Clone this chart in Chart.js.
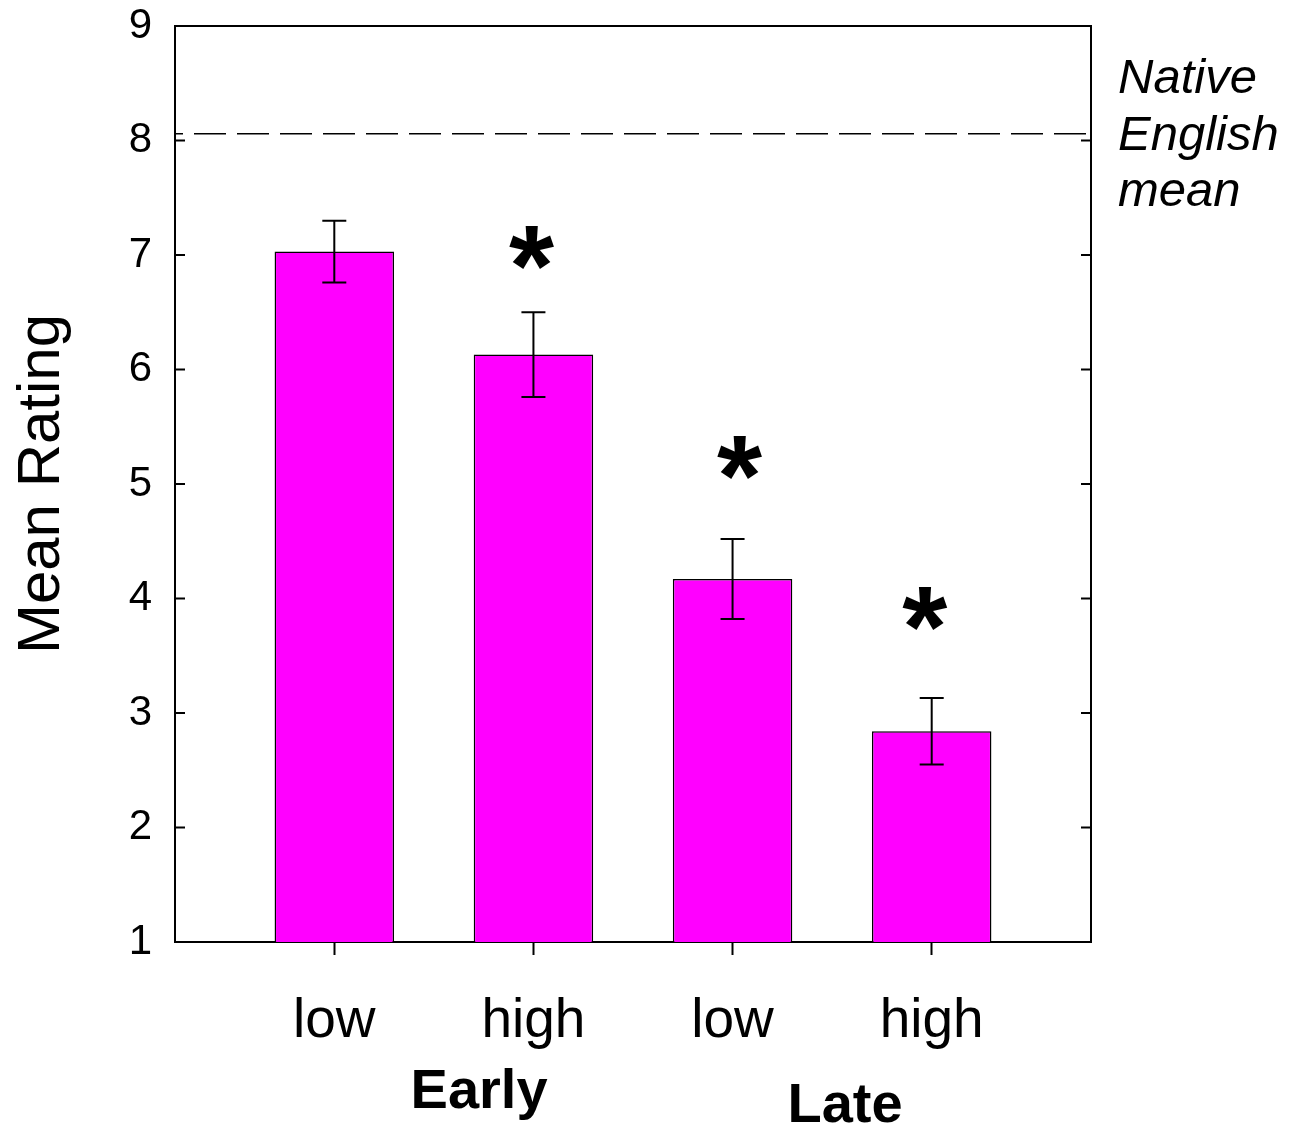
<!DOCTYPE html>
<html>
<head>
<meta charset="utf-8">
<script src="https://cdn.jsdelivr.net/npm/chart.js@4/dist/chart.umd.min.js"></script>
<style>
  html, body { margin: 0; padding: 0; background: #ffffff; }
  #wrap { width: 1289px; height: 1135px; }
</style>
</head>
<body>
<div id="wrap"><canvas id="chart" width="1289" height="1135"></canvas></div>
<script>
// Proficiency groups and conditions
const categories = ['low', 'high', 'low', 'high'];
const groupNames = ['Early', 'Late'];
// Mean rating per condition and its standard error
const meanRating = [7.03, 6.13, 4.17, 2.84];
const stdError = [0.27, 0.37, 0.35, 0.29];
// Conditions that differ significantly from the native speakers
const significant = [false, true, true, true];
// Native English speakers' mean rating (reference line)
const nativeMean = 8.06;
const nativeLabel = ['Native', 'English', 'mean'];
// Y axis tick values
const yTicks = [1, 2, 3, 4, 5, 6, 7, 8, 9];

const FONT = "'Liberation Sans', Arial, Helvetica, sans-serif";
const BAR_COLOR = '#ff00ff';

// Error bars, reference line, inward ticks and annotations
const decorations = {
  id: 'decorations',
  afterDatasetsDraw(chart, args, opts) {
    const { ctx, chartArea: a } = chart;
    const xs = chart.scales.x, ys = chart.scales.y;
    ctx.save();
    ctx.strokeStyle = '#000';

    // error bars
    ctx.lineWidth = 2;
    meanRating.forEach((m, i) => {
      const x = xs.getPixelForValue(i + 1);
      const top = ys.getPixelForValue(m + stdError[i]);
      const bot = ys.getPixelForValue(m - stdError[i]);
      ctx.beginPath();
      ctx.moveTo(x, top); ctx.lineTo(x, bot);
      ctx.moveTo(x - opts.capHalf, top); ctx.lineTo(x + opts.capHalf, top);
      ctx.moveTo(x - opts.capHalf, bot); ctx.lineTo(x + opts.capHalf, bot);
      ctx.stroke();
    });

    // native speaker reference line
    const yn = ys.getPixelForValue(nativeMean);
    ctx.lineWidth = 1.5;
    ctx.setLineDash([32, 11]);
    ctx.lineDashOffset = 24;
    ctx.beginPath();
    ctx.moveTo(a.left, yn); ctx.lineTo(a.right, yn);
    ctx.stroke();
    ctx.setLineDash([]);

    // inward ticks on left and right frame
    ctx.lineWidth = 2;
    yTicks.forEach(v => {
      const y = ys.getPixelForValue(v);
      ctx.beginPath();
      ctx.moveTo(a.left, y); ctx.lineTo(a.left + opts.tickIn, y);
      ctx.moveTo(a.right, y); ctx.lineTo(a.right - opts.tickIn, y);
      ctx.stroke();
    });

    // significance asterisks
    ctx.fillStyle = '#000';
    ctx.font = 'bold 100px ' + FONT;
    const mt = ctx.measureText('*');
    const h100 = mt.actualBoundingBoxAscent + mt.actualBoundingBoxDescent;
    const size = 100 * opts.starHeight / h100;
    ctx.font = 'bold ' + size + 'px ' + FONT;
    const m2 = ctx.measureText('*');
    const cxOff = (m2.actualBoundingBoxRight - m2.actualBoundingBoxLeft) / 2;
    const cyOff = (m2.actualBoundingBoxAscent - m2.actualBoundingBoxDescent) / 2;
    ctx.textAlign = 'left';
    ctx.textBaseline = 'alphabetic';
    significant.forEach((s, i) => {
      if (!s) return;
      const cx = xs.getPixelForValue(i + 1) + opts.starDx[i];
      const cy = ys.getPixelForValue(meanRating[i] + stdError[i]) - opts.starLift[i];
      ctx.fillText('*', cx + m2.actualBoundingBoxLeft - cxOff, cy + cyOff);
    });

    // reference line label
    ctx.font = 'italic 49px ' + FONT;
    nativeLabel.forEach((t, k) => {
      ctx.fillText(t, a.right + 27, a.top + 67 + k * 56.5);
    });

    // group labels under the conditions
    ctx.font = 'bold 56px ' + FONT;
    ctx.textAlign = 'center';
    groupNames.forEach((g, k) => {
      const x = xs.getPixelForValue(opts.groupAt[k]);
      ctx.fillText(g, x, a.bottom + opts.groupBase[k]);
    });
    ctx.restore();
  }
};

// keep the frame flush with the canvas margins chosen below
const noPad = s => { s.paddingTop = 0; s.paddingBottom = 0; s.paddingLeft = 0; s.paddingRight = 0; };

new Chart(document.getElementById('chart'), {
  type: 'bar',
  data: {
    datasets: [{
      data: meanRating.map((v, i) => ({ x: i + 1, y: v })),
      backgroundColor: BAR_COLOR,
      borderColor: '#000',
      borderWidth: 1.5,
      barPercentage: 0.6,
      categoryPercentage: 1.0,
      xAxisID: 'x',
      yAxisID: 'y'
    }]
  },
  options: {
    responsive: false,
    animation: false,
    events: [],
    layout: { padding: 0 },
    plugins: {
      legend: { display: false },
      tooltip: { enabled: false },
      decorations: {
        capHalf: 12,
        tickIn: 10,
        starHeight: 44,
        starDx: [0, -2, 7, -7],
        starLift: [0, 65, 81, 90],
        groupAt: [1.727, 3.565],
        groupBase: [166, 180]
      }
    },
    scales: {
      x: {
        type: 'linear',
        position: 'bottom',
        offset: false,
        min: 0.2,
        max: 4.8,
        afterBuildTicks: s => { s.ticks = categories.map((c, i) => ({ value: i + 1 })); },
        afterFit: s => { s.height = 193; noPad(s); },
        ticks: {
          color: '#000',
          font: { family: FONT, size: 55 },
          padding: 34,
          maxRotation: 0,
          autoSkip: false,
          callback: v => categories[Math.round(v) - 1]
        },
        grid: { display: true, offset: false, drawOnChartArea: false, drawTicks: true, tickLength: 13, tickWidth: 2, tickColor: '#000' },
        border: { display: true, color: '#000', width: 2 }
      },
      xTop: {
        type: 'linear',
        position: 'top',
        offset: false,
        min: 0.2,
        max: 4.8,
        afterFit: s => { s.height = 26; noPad(s); },
        ticks: { display: false },
        grid: { display: false, drawTicks: false },
        border: { display: true, color: '#000', width: 2 }
      },
      y: {
        type: 'linear',
        position: 'left',
        min: 1,
        max: 9,
        afterBuildTicks: s => { s.ticks = yTicks.map(v => ({ value: v })); },
        afterFit: s => { s.width = 175; noPad(s); },
        ticks: { color: '#000', font: { family: FONT, size: 42 }, padding: 23 },
        grid: { display: false, drawTicks: false },
        border: { display: true, color: '#000', width: 2 },
        title: { display: true, text: 'Mean Rating', color: '#000', font: { family: FONT, size: 60 }, padding: { top: 6, bottom: 0 } }
      },
      yRight: {
        type: 'linear',
        position: 'right',
        min: 1,
        max: 9,
        afterFit: s => { s.width = 198; noPad(s); },
        ticks: { display: false },
        grid: { display: false, drawTicks: false },
        border: { display: true, color: '#000', width: 2 }
      }
    }
  },
  plugins: [decorations]
});
</script>
</body>
</html>
